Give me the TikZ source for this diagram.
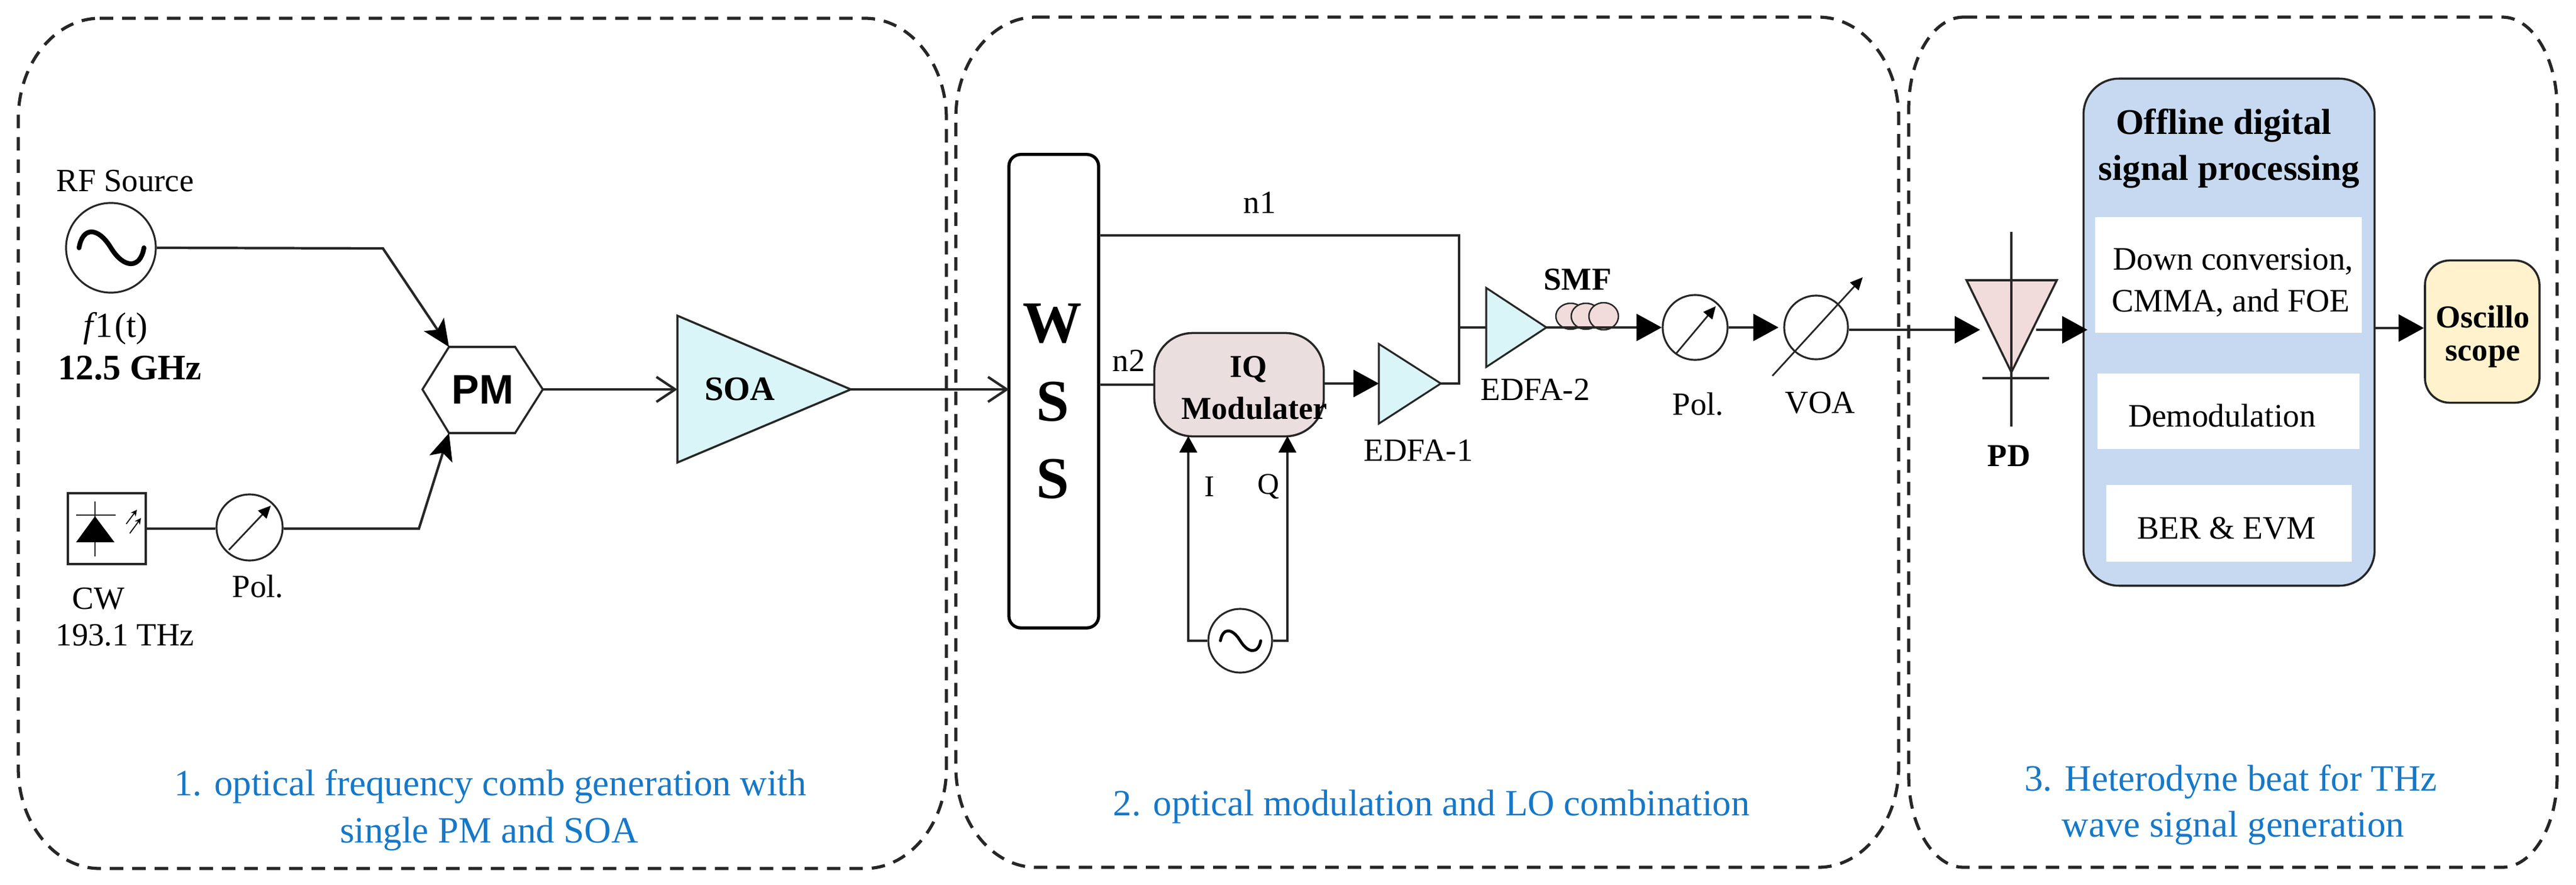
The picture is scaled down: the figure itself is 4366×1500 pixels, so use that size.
\documentclass[tikz,border=0pt]{standalone}
\usepackage{fontspec}
\setmainfont{Liberation Serif}
\newfontfamily\pmfont{Liberation Sans}
\usetikzlibrary{arrows.meta,calc,shapes.geometric}
\definecolor{cyanfill}{HTML}{DAF5F8}
\definecolor{pinkfill}{HTML}{EBDEDE}
\definecolor{pdfill}{HTML}{F2DCDB}
\definecolor{dspfill}{HTML}{C6D9F0}
\definecolor{oscfill}{HTML}{FFF2CC}
\definecolor{bluetext}{HTML}{1678C8}
\definecolor{ink}{HTML}{262626}
\newcommand{\fsz}[1]{\fontsize{#1}{#1}\selectfont}
\newcommand{\groupframe}[6]{%
  \draw[groupbox] ({#1+#5},#2) -- ({#3-#5},#2)
    .. controls ({#3-0.45*#5},#2) and (#3,{#2+0.45*#6}) .. (#3,{#2+#6})
    -- (#3,{#4-#6})
    .. controls (#3,{#4-0.45*#6}) and ({#3-0.45*#5},#4) .. ({#3-#5},#4)
    -- ({#1+#5},#4)
    .. controls ({#1+0.45*#5},#4) and (#1,{#4-0.45*#6}) .. (#1,{#4-#6})
    -- (#1,{#2+#6})
    .. controls (#1,{#2+0.45*#6}) and ({#1+0.45*#5},#2) .. ({#1+#5},#2) -- cycle;}
\newcommand{\sinewave}[3]{%
  \begin{scope}[shift={(#1)},scale=#2]
    \draw[line width=#3,line cap=round,black] (-54,0) .. controls (-48,-36) and (-22,-36) .. (0,0)
      .. controls (22,36) and (50,36) .. (56,0);
  \end{scope}}
\tikzset{
  groupbox/.style={draw=ink,line width=1.5pt,dash pattern=on 6.5pt off 4.3pt},
  wire/.style={draw=ink,line width=1.2pt},
  thin wire/.style={draw=ink,line width=0.9pt},
  solid tip/.style={-{Triangle[length=12.2pt,width=13pt,color=black]}},
  small tip/.style={-{Triangle[length=8pt,width=8.5pt,color=black]}},
  stealth tip/.style={-{Stealth[length=13pt,width=11.5pt,inset=3pt,color=black]}},
  open tip/.style={-{Straight Barb[length=9pt,width=12pt]}},
  txt/.style={inner sep=0pt,font=\fsz{15.6}},
  btxt/.style={inner sep=0pt,font=\fsz{15.6}\bfseries},
  captxt/.style={inner sep=0pt,text=bluetext,font=\fsz{17.9}},
  dial/.style={circle,draw=ink,line width=0.9pt,fill=white,inner sep=0pt},
  amp/.style={draw=ink,line width=0.9pt,fill=cyanfill,line join=miter},
  whitebox/.style={fill=white,inner sep=0pt,align=center},
  boxtxt/.style={inner sep=0pt,font=\fsz{15.8}},
  dialarrow/.style={draw=ink,line width=0.8pt,-{Triangle[length=6pt,width=5.5pt,color=black]}},
}
\begin{document}
\begin{tikzpicture}[x=0.01cm,y=-0.01cm]
\useasboundingbox (0,0) rectangle (4366,1500);
\fill[white] (0,0) rectangle (4366,1500);

% group boxes
\groupframe{31}{31}{1604}{1472}{138}{170}
\groupframe{1620}{29}{3218}{1470}{136}{170}
\groupframe{3235}{29}{4334}{1470}{93}{155}

% captions
\node[captxt] (cap1a) at (831,1333) {1. optical frequency comb generation with};
\node[captxt] (cap1b) at (829,1413) {single PM and SOA};
\node[captxt] (cap2) at (2426,1367) {2. optical modulation and LO combination};
\node[captxt] (cap3a) at (3781,1325) {3. Heterodyne beat for THz};
\node[captxt] (cap3b) at (3785,1403) {wave signal generation};

% section 1
\node[dial,minimum size=1.52cm] (rf) at (188,420) {};
\sinewave{rf}{1}{2.3pt}
\node[txt] (rflabel) at (212,307) {RF Source};
\node[txt,font=\fsz{17}] (f1) at (196,557) {\textit{f}\kern-1pt1\kern1pt(t)};
\node[btxt,font=\fsz{17.3}\bfseries] (ghz) at (220,624) {12.5 GHz};

\node[draw=ink,line width=1pt,minimum width=1.32cm,minimum height=1.2cm,inner sep=0pt] (cw) at (181,896) {};
\coordinate (dt) at (161,875);
\coordinate (dl) at (129,919);
\coordinate (dr) at (194,919);
\draw[thin wire,line width=0.7pt] (161,850) -- (161,943);
\draw[thin wire,line width=0.7pt] (129,873) -- (196,873);
\fill[black] (dt) -- (dr) -- (dl) -- cycle;
\draw[black,line width=0.5pt,-{Stealth[length=3pt,width=3pt]}] (214,888) -- (232,864);
\draw[black,line width=0.5pt,-{Stealth[length=3pt,width=3pt]}] (220,904) -- (239,878);
\node[txt] (cwlabel) at (167,1015) {CW};
\node[txt] (cwf) at (212,1077) {193.1 THz};

\node[dial,minimum size=1.12cm] (pol1) at (423,894) {};
\coordinate (pol1a) at (388,932);
\coordinate (pol1b) at (459,857);
\draw[dialarrow] (pol1a) -- (pol1b);
\node[txt] (pol1label) at (437,994) {Pol.};

% PM
\coordinate (pmW) at (716,660);
\coordinate (pmNW) at (761,588);
\coordinate (pmNE) at (873,588);
\coordinate (pmE) at (920,660);
\coordinate (pmSE) at (873,734);
\coordinate (pmSW) at (761,734);
\draw[draw=ink,line width=1pt,fill=white] (pmW) -- (pmNW) -- (pmNE) -- (pmE) -- (pmSE) -- (pmSW) -- cycle;
\node[inner sep=0pt,font=\pmfont\bfseries\fsz{19.9}] (pm) at (818,660) {PM};

\coordinate (rfbend) at (649,421);
\coordinate (polbend) at (710,896);
\draw[wire,stealth tip] (rf.east) -- (rfbend) -- (pmNW);
\draw[wire] (cw.east) -- (pol1.west |- cw.east);
\draw[wire,stealth tip] (pol1.east |- polbend) -- (polbend) -- (pmSW);

% SOA
\coordinate (soaT) at (1148,535);
\coordinate (soaB) at (1148,784);
\coordinate (soaE) at (1442,660);
\coordinate (soaW) at (1148,660);
\draw[amp,line width=1pt] (soaT) -- (soaE) -- (soaB) -- cycle;
\node[btxt,font=\fsz{16.5}\bfseries] (soa) at (1254,660) {SOA};
\draw[wire,open tip] (pmE) -- (soaW);

% section 2
\node[draw=black,line width=1.5pt,rounded corners=0.2cm,fill=white,minimum width=1.52cm,minimum height=8.02cm,inner sep=0pt] (wss) at (1786,663) {};
\node[inner sep=0pt,font=\fsz{28.5}\bfseries] (wssW) at (1784,548) {W};
\node[inner sep=0pt,font=\fsz{28.5}\bfseries] (wssS1) at (1784,681) {S};
\node[inner sep=0pt,font=\fsz{28.5}\bfseries] (wssS2) at (1784,812) {S};
\coordinate (wssIn) at (1710,660);
\draw[wire,open tip] (soaE) -- (wssIn);

\node[draw=ink,line width=1pt,fill=pinkfill,rounded corners=0.65cm,minimum width=2.87cm,minimum height=1.75cm,inner sep=0pt] (iq) at (2100,652) {};
\node[inner sep=0pt,font=\fsz{15.4}\bfseries,align=center] (iqa) at (2116,626) {IQ};
\node[inner sep=0pt,font=\fsz{15.4}\bfseries,align=center] (iqb) at (2126,692) {Modulater};

\node[txt] (n1) at (2135,343) {n1};
\node[txt] (n2) at (1913,611) {n2};
\draw[wire] (wss.east |- iq.west) -- (iq.west);

% EDFA-1
\coordinate (e1T) at (2337,583);
\coordinate (e1B) at (2337,718);
\coordinate (e1E) at (2442,650);
\coordinate (e1W) at (2337,650);
\draw[amp] (e1T) -- (e1E) -- (e1B) -- cycle;
\node[txt] (e1label) at (2404,763) {EDFA-1};
\draw[wire,solid tip] (iq.east |- e1W) -- (e1W);

% EDFA-2
\coordinate (e2T) at (2519,488);
\coordinate (e2B) at (2519,622);
\coordinate (e2E) at (2621,555);
\coordinate (e2W) at (2519,555);
\draw[amp] (e2T) -- (e2E) -- (e2B) -- cycle;
\node[txt] (e2label) at (2602,660) {EDFA-2};

% n1 path
\coordinate (n1c) at (2473,399);
\draw[thin wire] (wss.east |- n1c) -- (n1c) -- (n1c |- e1E) -- (e1E);
\draw[wire] (n1c |- e2W) -- (e2W);

% SMF
\node[btxt,font=\fsz{15.4}\bfseries] (smf) at (2674,474) {SMF};
\node[draw=ink,line width=0.7pt,fill=pdfill,ellipse,minimum width=0.5cm,minimum height=0.44cm,inner sep=0pt] (c1) at (2662,536) {};
\node[draw=ink,line width=0.7pt,fill=pdfill,ellipse,minimum width=0.5cm,minimum height=0.44cm,inner sep=0pt] (c2) at (2688,536) {};
\node[draw=ink,line width=0.7pt,fill=pdfill,ellipse,minimum width=0.5cm,minimum height=0.46cm,inner sep=0pt] (c3) at (2718,536) {};

% Pol, VOA
\node[dial,minimum size=1.1cm] (pol2) at (2873,555) {};
\coordinate (pol2a) at (2841,599);
\coordinate (pol2b) at (2908,519);
\draw[dialarrow] (pol2a) -- (pol2b);
\node[txt] (pol2label) at (2878,685) {Pol.};
\node[dial,minimum size=1.08cm] (voa) at (3078,555) {};
\coordinate (voaa) at (3004,637);
\coordinate (voab) at (3157,470);
\draw[dialarrow] (voaa) -- (voab);
\node[txt] (voalabel) at (3085,683) {VOA};
\draw[wire,solid tip] (e2E) -- (pol2.west);
\draw[wire,solid tip] (pol2.east) -- ($(voa.west)+(-8,0)$);

% I/Q source
\node[dial,minimum size=1.08cm] (lo) at (2102,1086) {};
\sinewave{lo}{0.62}{1.4pt}
\coordinate (ic) at (2014,1086);
\coordinate (qc) at (2182,1086);
\coordinate (it) at (2014,739);
\coordinate (qt) at (2182,739);
\draw[thin wire,small tip] (lo.west) -- (ic) -- (it);
\draw[thin wire,small tip] (lo.east) -- (qc) -- (qt);
\node[txt,font=\fsz{14.5}] (ilabel) at (2050,825) {I};
\node[txt,font=\fsz{14.5}] (qlabel) at (2150,825) {Q};

% section 3: PD
\coordinate (pdL) at (3333,475);
\coordinate (pdR) at (3486,475);
\coordinate (pdA) at (3409,631);
\draw[draw=ink,line width=1pt,fill=pdfill] (pdL) -- (pdR) -- (pdA) -- cycle;
\coordinate (pdIn) at (3356,559);
\coordinate (pdOut) at (3451,559);
\draw[thin wire] (3409,393) -- (3409,723);
\draw[wire] (3360,641) -- (3473,641);
\node[btxt,font=\fsz{15.4}\bfseries] (pdlabel) at (3405,773) {PD};
\draw[wire,solid tip] (voa.east |- pdIn) -- (pdIn);

% DSP
\node[draw=ink,line width=1pt,fill=dspfill,rounded corners=0.6cm,minimum width=4.93cm,minimum height=8.59cm,inner sep=0pt] (dsp) at (3778,563) {};
\node[inner sep=0pt,font=\fsz{17.4}\bfseries] (dspa) at (3769,213) {Offline digital};
\node[inner sep=0pt,font=\fsz{17.4}\bfseries] (dspb) at (3778,291) {signal processing};
\node[whitebox,minimum width=4.52cm,minimum height=1.95cm] (w1) at (3777,466) {};
\node[boxtxt] (w1a) at (3785,443) {Down conversion,};
\node[boxtxt] (w1b) at (3781,513) {CMMA, and FOE};
\node[whitebox,minimum width=4.44cm,minimum height=1.27cm] (w2) at (3777,697) {};
\node[boxtxt] (w2a) at (3766,704) {Demodulation};
\node[whitebox,minimum width=4.15cm,minimum height=1.3cm] (w3) at (3778,887) {};
\node[boxtxt] (w3a) at (3774,895) {BER \& EVM};
\coordinate (dspIn) at (3538,559);
\draw[wire,solid tip] (pdOut) -- (dspIn);

% Oscilloscope
\node[draw=ink,line width=1pt,fill=oscfill,rounded corners=0.42cm,minimum width=1.94cm,minimum height=2.41cm,inner sep=0pt] (osc) at (4207,562) {};
\node[inner sep=0pt,font=\fsz{15.4}\bfseries] (osca) at (4208,537) {Oscillo};
\node[inner sep=0pt,font=\fsz{15.4}\bfseries] (oscb) at (4208,605) {scope};
\coordinate (oscy) at (4100,556);
\draw[wire,solid tip] (dsp.east |- oscy) -- (osc.west |- oscy);
\end{tikzpicture}
\end{document}
